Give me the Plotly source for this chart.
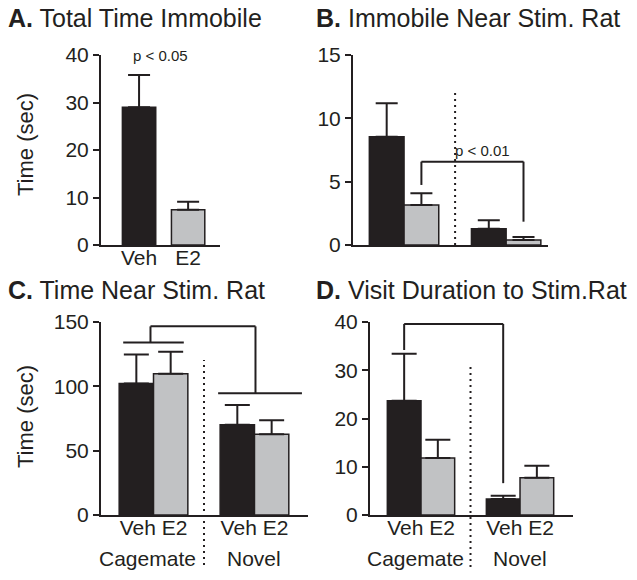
import plotly.graph_objects as go

W, H = 637, 580

# ---------------- data ----------------
a_groups = ["Veh", "E2"]
a_means = [29.0, 7.4]
a_sem = [6.8, 1.7]

stim_groups = ["Cagemate", "Novel"]

b_veh = [8.55, 1.29]
b_veh_sem = [2.65, 0.66]
b_e2 = [3.16, 0.39]
b_e2_sem = [0.92, 0.24]

c_veh = [102.2, 70.1]
c_veh_sem = [22.6, 15.3]
c_e2 = [109.8, 62.8]
c_e2_sem = [17.1, 10.9]

d_veh = [23.7, 3.3]
d_veh_sem = [9.7, 0.7]
d_e2 = [11.8, 7.7]
d_e2_sem = [3.8, 2.5]

titles = ["A.", "B.", "C.", "D."]
title_text = ["Total Time Immobile", "Immobile Near Stim. Rat",
              "Time Near Stim. Rat", "Visit Duration to Stim.Rat"]
p_labels = ["p < 0.05", "p < 0.01", "p < 0.05", "p < 0.05"]

# ---------------- style ----------------
DARK = "#231f20"
GREY = "#c1c2c4"
FONT = "Liberation Sans, Arial, Helvetica, sans-serif"
NARROW = "Liberation Sans Narrow, Arial Narrow, Liberation Sans, sans-serif"
BARGAP = 0.32
HALF = (1 - BARGAP) / 4  # offset of bar centre from group centre (category units)


def px(p):
    return p / W


def py(p):
    return 1 - p / H


def xdom(a, b):
    return [px(a), px(b)]


def ydom(top, bottom):
    return [py(bottom), py(top)]


def err(sem, w):
    return dict(type="data", array=sem, arrayminus=[0] * len(sem), symmetric=False,
                color=DARK, thickness=2, width=w)


fig = go.Figure()

# Panel A
fig.add_trace(go.Bar(x=a_groups, y=a_means, error_y=err(a_sem, 11),
                     marker=dict(color=[DARK, GREY], line=dict(color=DARK, width=1.5)),
                     xaxis="x", yaxis="y", showlegend=False))

# Panels B, C, D
panels = [("x2", "y2", b_veh, b_veh_sem, b_e2, b_e2_sem, 11),
          ("x3", "y3", c_veh, c_veh_sem, c_e2, c_e2_sem, 12.5),
          ("x4", "y4", d_veh, d_veh_sem, d_e2, d_e2_sem, 12.5)]
for xa, ya, v, vs, e, es, w in panels:
    fig.add_trace(go.Bar(x=stim_groups, y=v, error_y=err(vs, w), name="Veh",
                         marker=dict(color=DARK, line=dict(color=DARK, width=1.5)),
                         xaxis=xa, yaxis=ya, showlegend=False))
    fig.add_trace(go.Bar(x=stim_groups, y=e, error_y=err(es, w), name="E2",
                         marker=dict(color=GREY, line=dict(color=DARK, width=1.5)),
                         xaxis=xa, yaxis=ya, showlegend=False))

axis_common = dict(showline=True, linecolor=DARK, linewidth=2, showgrid=False,
                   zeroline=False, fixedrange=True)
yax_common = dict(axis_common, ticks="outside", ticklen=6, tickwidth=2, tickcolor=DARK,
                  tickfont=dict(size=21, color=DARK, family=FONT))
xax_common = dict(axis_common, ticks="", ticklabelstandoff=-7,
                  tickfont=dict(size=21, color=DARK, family=FONT))

fig.update_layout(
    width=W, height=H, margin=dict(l=0, r=0, t=0, b=0, autoexpand=False),
    paper_bgcolor="white", plot_bgcolor="white",
    barmode="group", bargap=BARGAP, bargroupgap=0,
    font=dict(family=FONT, color=DARK),
    xaxis=dict(xax_common, domain=xdom(101, 220), range=[-0.776, 1.65], anchor="y"),
    yaxis=dict(yax_common, domain=ydom(55, 245), range=[0, 40], dtick=10, anchor="x"),
    xaxis2=dict(xax_common, domain=xdom(353, 548), range=[-0.5, 1.41], anchor="y2",
                showticklabels=False),
    yaxis2=dict(yax_common, domain=ydom(55, 245), range=[0, 15], dtick=5, anchor="x2"),
    xaxis3=dict(xax_common, domain=xdom(101, 308), range=[-0.52, 1.53], anchor="y3",
                tickvals=stim_groups, ticktext=["Veh E2", "Veh E2"]),
    yaxis3=dict(yax_common, domain=ydom(322, 515), range=[0, 150], dtick=50, anchor="x3"),
    xaxis4=dict(xax_common, domain=xdom(370, 573), range=[-0.515, 1.535], anchor="y4",
                tickvals=stim_groups, ticktext=["Veh E2", "Veh E2"]),
    yaxis4=dict(yax_common, domain=ydom(322, 515), range=[0, 40], dtick=10, anchor="x4"),
)

# ---------------- annotations ----------------
ann = []
title_pos = [(6, 18), (314, 18), (6, 290), (314, 290)]
for (tx, ty), t, tt in zip(title_pos, titles, title_text):
    ann.append(dict(x=px(tx), y=py(ty), xref="paper", yref="paper", xanchor="left",
                    yanchor="middle", showarrow=False,
                    text=f"<b>{t}</b> {tt}", font=dict(size=25, color=DARK, family=FONT)))

for yc in (145, 417):
    ann.append(dict(x=px(25), y=py(yc), xref="paper", yref="paper", textangle=-90,
                    xanchor="center", yanchor="middle", showarrow=False,
                    text="Time (sec)", font=dict(size=22, color=DARK, family=FONT)))

for xa in ("x3", "x4"):
    for g, sh in zip(stim_groups, (-6, 0)):
        ann.append(dict(x=g, y=py(558), xref=xa, yref="paper", xanchor="center",
                        yanchor="middle", xshift=sh, showarrow=False, text=g,
                        font=dict(size=21, color=DARK, family=FONT)))

p_pos = [("x", "y", 0.43, 39.8), ("x2", "y2", 0.765, 7.44),
         ("x3", "y3", 0.55, 155.7), ("x4", "y4", 0.11, 41.7)]
for (xa, ya, xv, yv), pl in zip(p_pos, p_labels):
    ann.append(dict(x=xv, y=yv, xref=xa, yref=ya, xanchor="center", yanchor="middle",
                    showarrow=False, text=pl, font=dict(size=15, color=DARK, family=NARROW)))

fig.update_layout(annotations=ann)

# ---------------- brackets & separators ----------------
shapes = []
LN = dict(color=DARK, width=2)


def seg(xa, ya, x0, y0, x1, y1):
    shapes.append(dict(type="line", xref=xa, yref=ya, x0=x0, y0=y0, x1=x1, y1=y1, line=LN))


# B bracket: cagemate E2 vs novel E2
bl, br = 0 + HALF, 1 + HALF
seg("x2", "y2", bl, 4.74, bl, 6.58)
seg("x2", "y2", bl, 6.58, br, 6.58)
seg("x2", "y2", br, 6.58, br, 1.84)

# C bracket: cagemate vs novel
seg("x3", "y3", -0.30, 134.1, 0.30, 134.1)
seg("x3", "y3", 0.64, 94.7, 1.47, 94.7)
seg("x3", "y3", -0.03, 134.1, -0.03, 146.6)
seg("x3", "y3", -0.03, 146.6, 1.01, 146.6)
seg("x3", "y3", 1.01, 146.6, 1.01, 94.7)

# D bracket: cagemate Veh vs novel Veh
dl, dr = 0 - HALF, 1 - HALF
seg("x4", "y4", dl, 34.2, dl, 39.6)
seg("x4", "y4", dl, 39.6, dr, 39.6)
seg("x4", "y4", dr, 39.6, dr, 6.6)

DOT = dict(color=DARK, width=2, dash="2px,4px")
shapes.append(dict(type="line", xref="x2", yref="y2", x0=0.5, x1=0.5, y0=0, y1=12.3, line=DOT))
shapes.append(dict(type="line", xref="x3", yref="paper", x0=0.5, x1=0.5,
                   y0=py(565), y1=py(360), line=DOT))
shapes.append(dict(type="line", xref="x4", yref="paper", x0=0.5, x1=0.5,
                   y0=py(567), y1=py(363), line=DOT))
fig.update_layout(shapes=shapes)

fig.write_html("out.html",
               config={"displayModeBar": False, "staticPlot": True},
               post_script="document.body.style.margin='0';document.body.style.overflow='hidden';")
